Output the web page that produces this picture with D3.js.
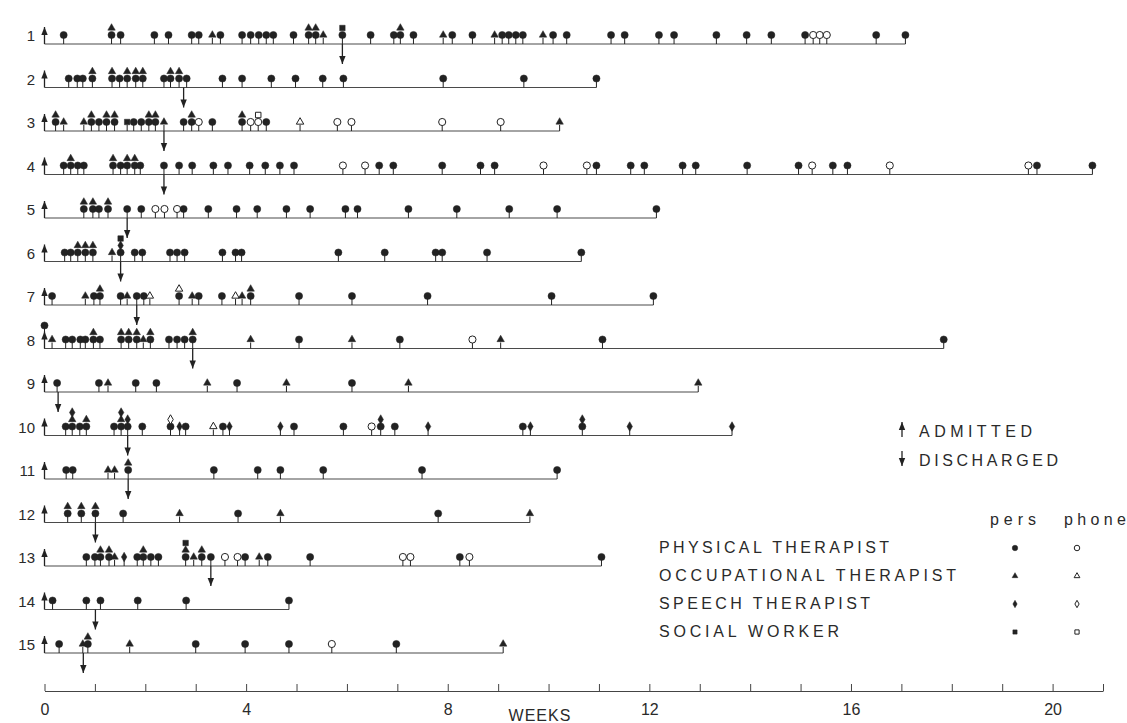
<!DOCTYPE html>
<html>
<head>
<meta charset="utf-8">
<script src="https://cdn.jsdelivr.net/npm/d3@7"></script>
<style>
  body { margin: 0; background: #fff; }
  svg { display: block; font-family: "Liberation Sans", Arial, sans-serif; }
</style>
</head>
<body>
<svg id="chart" width="1127" height="723"></svg>
<script>

// codes: P/O/S/W = physical, occupational, speech therapist, social worker (in person)
// lower case = by phone, "_" = empty slot; a stack is read bottom -> top
const patients = ["1","2","3","4","5","6","7","8","9","10","11","12","13","14","15"];
const discharged = [5.91, 2.76, 2.37, 2.37, 1.64, 1.51, 1.83, 2.94, 0.27, 1.65, 1.66, 1.01, 3.3, 1.01, 0.77];
const followUpEnd = [17.08, 10.95, 10.22, 20.79, 12.14, 10.65, 12.08, 17.84, 12.97, 13.64, 10.17, 9.63, 11.05, 4.85, 9.1];

const visits = [
  [[0.38,"P"],[1.33,"PO"],[1.51,"P"],[2.18,"P"],[2.46,"P"],[2.92,"P"],[3.06,"P"],[3.33,"O"],[3.49,"P"],[3.92,"P"],[4.09,"P"],[4.25,"P"],[4.40,"P"],[4.54,"P"],[4.94,"P"],[5.24,"PO"],[5.38,"PO"],[5.53,"O"],[5.91,"PW"],[6.47,"P"],[6.93,"P"],[7.06,"PO"],[7.32,"P"],[7.91,"O"],[8.09,"P"],[8.49,"P"],[8.93,"O"],[9.08,"P"],[9.21,"P"],[9.35,"P"],[9.49,"P"],[9.89,"O"],[10.09,"P"],[10.36,"P"],[11.24,"P"],[11.51,"P"],[12.19,"P"],[12.49,"P"],[13.33,"P"],[13.93,"P"],[14.42,"P"],[15.09,"P"],[15.25,"p"],[15.38,"p"],[15.52,"p"],[16.5,"P"],[17.08,"P"]],
  [[0.48,"P"],[0.65,"P"],[0.76,"P"],[0.95,"PO"],[1.34,"PO"],[1.49,"P"],[1.64,"PO"],[1.81,"PO"],[1.95,"PO"],[2.37,"P"],[2.5,"PO"],[2.67,"PO"],[2.82,"P"],[3.53,"P"],[3.92,"P"],[4.5,"P"],[4.98,"P"],[5.52,"P"],[5.93,"P"],[7.91,"P"],[9.51,"P"],[10.95,"P"]],
  [[0.22,"PO"],[0.38,"O"],[0.78,"O"],[0.93,"PO"],[1.08,"P"],[1.23,"PO"],[1.39,"PO"],[1.64,"W"],[1.77,"P"],[1.92,"P"],[2.07,"PO"],[2.2,"PO"],[2.37,"O"],[2.76,"P"],[2.92,"PO"],[3.06,"p"],[3.33,"P"],[3.92,"PO"],[4.09,"p"],[4.24,"pw"],[4.4,"P"],[5.07,"o"],[5.81,"p"],[6.09,"p"],[7.89,"p"],[9.05,"p"],[10.22,"O"]],
  [[0.38,"P"],[0.52,"PO"],[0.66,"P"],[0.78,"P"],[1.36,"PO"],[1.51,"P"],[1.64,"PO"],[1.79,"PO"],[1.9,"P"],[2.37,"P"],[2.67,"P"],[2.93,"P"],[3.35,"P"],[3.64,"P"],[4.07,"P"],[4.38,"P"],[4.67,"P"],[4.95,"P"],[5.92,"p"],[6.36,"p"],[6.64,"P"],[6.92,"P"],[7.89,"P"],[8.65,"P"],[8.93,"P"],[9.9,"p"],[10.76,"p"],[10.95,"P"],[11.63,"P"],[11.9,"P"],[12.66,"P"],[12.92,"P"],[13.94,"P"],[14.96,"P"],[15.23,"p"],[15.64,"P"],[15.93,"P"],[16.77,"p"],[19.52,"p"],[19.69,"P"],[20.79,"P"]],
  [[0.78,"PO"],[0.96,"PO"],[1.08,"P"],[1.26,"PO"],[1.64,"P"],[1.92,"P"],[2.2,"p"],[2.38,"p"],[2.63,"p"],[2.76,"P"],[3.25,"P"],[3.81,"P"],[4.22,"P"],[4.8,"P"],[5.27,"P"],[5.97,"P"],[6.21,"P"],[7.22,"P"],[8.18,"P"],[9.22,"P"],[10.17,"P"],[12.14,"P"]],
  [[0.4,"P"],[0.52,"P"],[0.66,"PO"],[0.81,"PO"],[0.96,"PO"],[1.34,"O"],[1.51,"PSW"],[1.79,"P"],[1.94,"P"],[2.49,"P"],[2.63,"P"],[2.78,"P"],[3.53,"P"],[3.79,"P"],[3.91,"P"],[5.83,"P"],[6.75,"P"],[7.76,"P"],[7.89,"P"],[8.78,"P"],[10.65,"P"]],
  [[0.15,"P"],[0.81,"O"],[0.98,"P"],[1.1,"PO"],[1.51,"P"],[1.64,"O"],[1.83,"P"],[1.97,"P"],[2.09,"o"],[2.67,"Po"],[2.93,"O"],[3.06,"P"],[3.52,"P"],[3.79,"o"],[3.92,"O"],[4.09,"PO"],[5.05,"P"],[6.1,"P"],[7.6,"P"],[10.06,"P"],[12.08,"P"]],
  [[0,"__P"],[0.15,"O"],[0.42,"P"],[0.55,"P"],[0.71,"P"],[0.81,"P"],[0.97,"PO"],[1.1,"P"],[1.52,"PO"],[1.67,"PO"],[1.83,"PO"],[1.96,"O"],[2.1,"PO"],[2.47,"P"],[2.63,"P"],[2.78,"P"],[2.94,"PO"],[4.09,"O"],[5.05,"P"],[6.1,"O"],[7.05,"P"],[8.49,"p"],[9.05,"O"],[11.07,"P"],[17.84,"P"]],
  [[0.25,"P"],[1.08,"P"],[1.26,"O"],[1.81,"P"],[2.22,"P"],[3.23,"O"],[3.82,"P"],[4.8,"O"],[6.1,"P"],[7.22,"O"],[12.97,"O"]],
  [[0.42,"P"],[0.55,"POS"],[0.7,"P"],[0.83,"PO"],[1.38,"P"],[1.52,"POS"],[1.65,"PS"],[1.94,"P"],[2.5,"Ps"],[2.68,"S"],[2.8,"P"],[3.35,"o"],[3.54,"P"],[3.67,"S"],[4.68,"S"],[4.95,"P"],[5.93,"P"],[6.49,"p"],[6.67,"PS"],[6.95,"P"],[7.61,"S"],[9.49,"P"],[9.64,"S"],[10.67,"PS"],[11.61,"S"],[13.64,"S"]],
  [[0.43,"P"],[0.56,"P"],[1.26,"O"],[1.39,"O"],[1.66,"PO"],[3.36,"P"],[4.23,"P"],[4.68,"P"],[5.53,"P"],[7.49,"P"],[10.17,"P"]],
  [[0.46,"PO"],[0.73,"PO"],[1.01,"PO"],[1.56,"P"],[2.68,"O"],[3.84,"P"],[4.68,"O"],[7.81,"P"],[9.63,"O"]],
  [[0.83,"P"],[1.0,"P"],[1.11,"PO"],[1.28,"PO"],[1.39,"O"],[1.58,"S"],[1.84,"P"],[1.96,"PO"],[2.11,"P"],[2.26,"P"],[2.8,"POW"],[2.96,"O"],[3.12,"PO"],[3.3,"P"],[3.58,"p"],[3.83,"p"],[3.98,"P"],[4.26,"O"],[4.43,"P"],[5.27,"P"],[7.11,"p"],[7.26,"p"],[8.24,"P"],[8.43,"p"],[11.05,"P"]],
  [[0.16,"P"],[0.83,"P"],[1.11,"P"],[1.85,"P"],[2.81,"P"],[4.85,"P"]],
  [[0.29,"P"],[0.76,"O"],[0.86,"PO"],[1.69,"O"],[3.0,"P"],[3.98,"P"],[4.85,"P"],[5.7,"p"],[6.98,"P"],[9.1,"O"]]
];

const weekTicks = d3.range(0, 22);
const weekLabels = [0, 4, 8, 12, 16, 20];
const eventLabels = ["ADMITTED", "DISCHARGED"];
const roleLabels = ["PHYSICAL THERAPIST", "OCCUPATIONAL THERAPIST", "SPEECH THERAPIST", "SOCIAL WORKER"];
const roleCodes = ["P", "O", "S", "W"];
const modeLabels = ["pers", "phone"];

const ink = "#222";
const svg = d3.select("#chart");

const x = d3.scaleLinear().domain([0, 21]).range([44.5, 1103]);
const y = d3.scalePoint().domain(patients).range([44, 653]);

const shape = {P: d3.symbolCircle, O: d3.symbolTriangle, S: d3.symbolDiamond, W: d3.symbolSquare};
const size = {P: 40, O: 24, S: 26, W: 30};

function drawMark(g, code, cx, cy, k) {
  let c = code.toUpperCase();
  let phone = code !== c;
  g.append("path")
    .attr("d", d3.symbol(shape[c], size[c] * (k || 1))())
    .attr("transform", `translate(${cx},${cy})`)
    .attr("fill", phone ? "#fff" : ink)
    .attr("stroke", ink)
    .attr("stroke-width", phone ? 1 : 0.5);
}

function arrow(g, cx, y0, len) {
  // len < 0 : pointing up, len > 0 : pointing down
  let dir = Math.sign(len);
  g.append("line")
    .attr("x1", cx).attr("x2", cx).attr("y1", y0).attr("y2", y0 + len)
    .attr("stroke", ink).attr("stroke-width", 1.3);
  let tip = y0 + len, base = tip - dir * 8;
  g.append("path")
    .attr("d", `M${cx},${tip}L${cx - 3.2},${base}L${cx + 3.2},${base}Z`)
    .attr("fill", ink);
}

patients.forEach((p, i) => {
  let yy = y(p);
  let row = svg.append("g");

  row.append("text")
    .attr("x", 35).attr("y", yy - 3)
    .attr("text-anchor", "end")
    .attr("font-size", 15).attr("fill", "#2a2a2a")
    .text(p);

  row.append("line")
    .attr("x1", x(0)).attr("x2", x(followUpEnd[i]))
    .attr("y1", yy).attr("y2", yy)
    .attr("stroke", "#4a4a4a").attr("stroke-width", 1.2);

  arrow(row, x(0), yy, -17);
  arrow(row, x(discharged[i]), yy, 20);

  visits[i].forEach(v => {
    let cx = x(v[0]);
    let codes = v[1].split("");
    let first = codes.findIndex(c => c !== "_");
    row.append("line")
      .attr("x1", cx).attr("x2", cx)
      .attr("y1", yy).attr("y2", yy - 9 - 7 * first + 3)
      .attr("stroke", ink).attr("stroke-width", 1);
    codes.forEach((c, k) => {
      if (c === "_") return;
      drawMark(row, c, cx, yy - 9 - 7 * k);
    });
  });
});

// week axis, ticks pointing up
const axis = d3.axisBottom(x)
  .tickValues(weekTicks)
  .tickSize(-7)
  .tickSizeOuter(0)
  .tickPadding(13)
  .tickFormat(d => weekLabels.includes(d) ? d : "");

const ax = svg.append("g")
  .attr("transform", "translate(0,691)")
  .call(axis);
ax.select(".domain").attr("stroke", "#444").attr("stroke-width", 1.2);
ax.selectAll(".tick line").attr("stroke", "#444");
ax.selectAll(".tick text")
  .attr("font-size", 16).attr("fill", "#2a2a2a")
  .attr("font-family", "'Liberation Sans Narrow', 'Liberation Sans', Arial, sans-serif");

svg.append("text")
  .attr("x", 540).attr("y", 721)
  .attr("text-anchor", "middle")
  .attr("font-size", 16).attr("fill", "#2a2a2a")
  .attr("letter-spacing", 1)
  .text("WEEKS");

// legend: admitted / discharged
const evWidths = [113, 139];
eventLabels.forEach((t, i) => {
  let ly = 437 + i * 29;
  arrow(svg, 902, i === 0 ? ly : ly - 15, i === 0 ? -15 : 15);
  svg.append("text")
    .attr("x", 919).attr("y", ly)
    .attr("font-size", 16).attr("fill", "#2a2a2a")
    .attr("textLength", evWidths[i]).attr("lengthAdjust", "spacing")
    .text(t);
});

// legend: roles
const roleWidths = [230, 297, 211, 180];
roleLabels.forEach((t, i) => {
  let ly = 547 + i * 28;
  svg.append("text")
    .attr("x", 659).attr("y", ly + 6)
    .attr("font-size", 16).attr("fill", "#2a2a2a")
    .attr("textLength", roleWidths[i]).attr("lengthAdjust", "spacing")
    .text(t);
  drawMark(svg, roleCodes[i], 1015, ly + 1, 0.6);
  drawMark(svg, roleCodes[i].toLowerCase(), 1077, ly + 1, 0.6);
});

const modeX = [990, 1064];
const modeWidths = [46, 62];
modeLabels.forEach((t, i) => {
  svg.append("text")
    .attr("x", modeX[i]).attr("y", 525)
    .attr("font-size", 16).attr("fill", "#2a2a2a")
    .attr("textLength", modeWidths[i]).attr("lengthAdjust", "spacing")
    .text(t);
});

</script>
</body>
</html>
